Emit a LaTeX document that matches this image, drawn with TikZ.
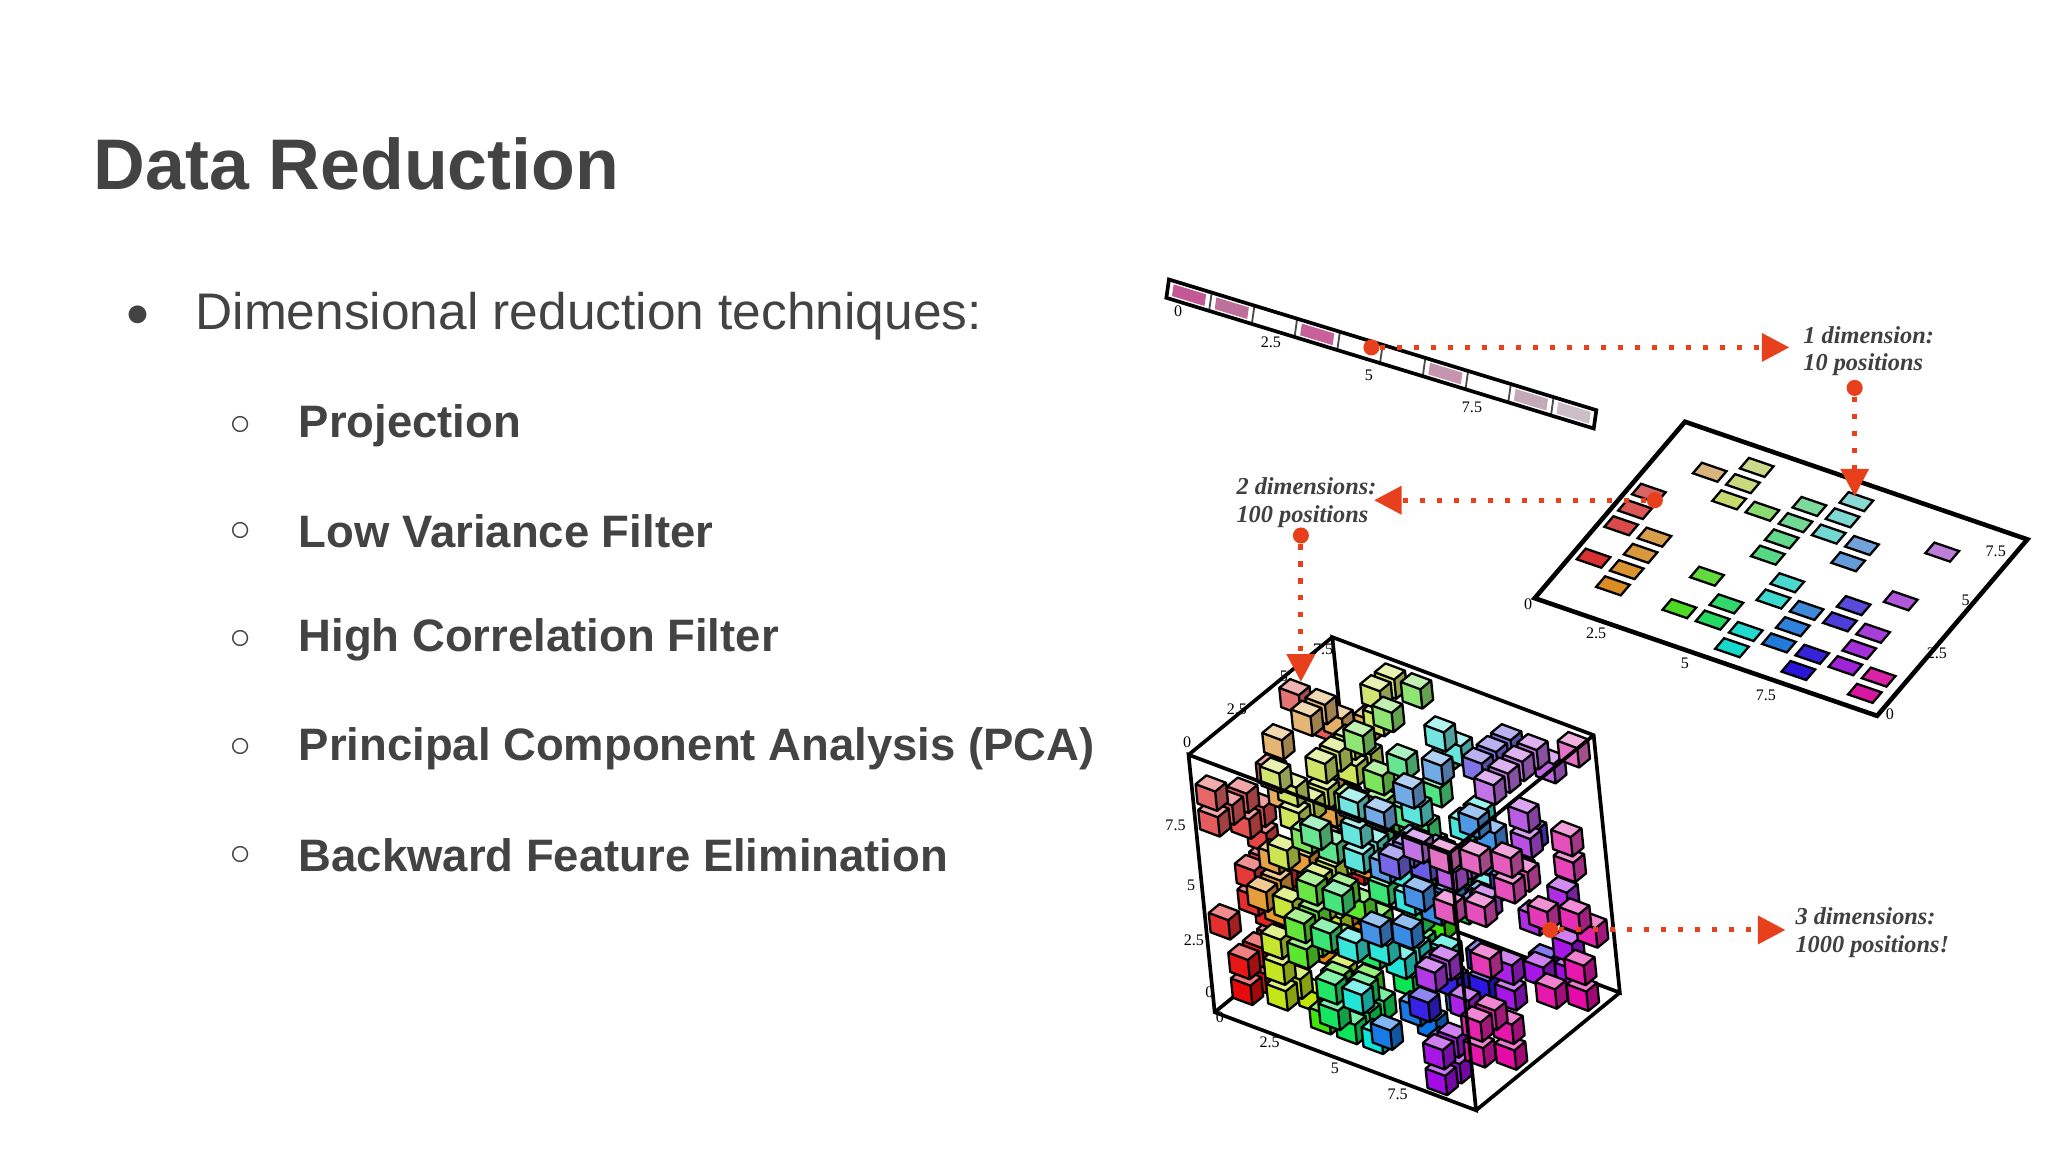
\documentclass[tikz,border=0pt]{standalone}
\usepackage{fontspec}
\setmainfont{Liberation Sans}
\newfontfamily\lbl{Liberation Serif}
\usetikzlibrary{arrows.meta}
\definecolor{txt}{HTML}{434343}
\definecolor{arr}{HTML}{E8401C}
\tikzset{
 tick/.style={font=\lbl\fontsize{3.5}{4}\selectfont},
 arrline/.style={arr,line width=1.1pt,dash pattern=on 1.1pt off 2.6pt,-{Triangle[length=6pt,width=6pt]}},
 dotn/.style={circle,fill=arr,inner sep=0pt,minimum size=3.5pt},
 lab/.style={font=\lbl\itshape\bfseries\fontsize{5.3}{6}\selectfont,align=left,text=black!75,anchor=west,inner sep=0pt},
 item/.style={font=\bfseries\fontsize{9.9}{12}\selectfont,text=txt,anchor=west,inner sep=0pt},
 circ/.style={font=\fontsize{8}{10}\selectfont,text=txt}
}
\newcommand\mkhsb[3]{\convertcolorspec{hsb}{#1,#2,#3}{rgb}\tmpcol\definecolor{cc}{rgb}{\tmpcol}}
\newcommand\mycube[4]{% u v w color
 \def\s{0.075}
 \fill[#4] (#1,#2,#3)--++(\s,0,0)--++(0,\s,0)--++(-\s,0,0)--cycle;
 \fill[#4!55!white] (#1,#2+\s,#3)--++(\s,0,0)--++(0,0,\s)--++(-\s,0,0)--cycle;
 \fill[#4!70!black] (#1+\s,#2,#3)--++(0,0,\s)--++(0,\s,0)--++(0,0,-\s)--cycle;
 \draw[black,line width=0.5pt,line join=round] (#1,#2,#3)--++(\s,0,0)--++(0,0,\s)--++(0,\s,0)--++(-\s,0,0)--++(0,0,-\s)--cycle
   (#1,#2+\s,#3)--++(\s,0,0)--++(0,-\s,0) (#1+\s,#2+\s,#3)--++(0,0,\s);
}
\begin{document}
\begin{tikzpicture}[x=0.01cm,y=-0.01cm]
\useasboundingbox[fill=white] (0,0) rectangle (1568,882);
% text
\node[anchor=base west,inner sep=0pt,font=\bfseries\fontsize{15.6}{18}\selectfont,text=txt] (title) at (71,145) {Data Reduction};
\node[anchor=base west,inner sep=0pt,font=\fontsize{11.2}{13}\selectfont,text=txt] (b0) at (149,252) {Dimensional reduction techniques:};
\node[font=\fontsize{9}{10}\selectfont,text=txt] (d0) at (106,242) {●};
\foreach \t/\yy [count=\i] in {Projection/326,Low Variance Filter/407,High Correlation Filter/490,Principal Component Analysis (PCA)/573,Backward Feature Elimination/655}{
 \node[circ] (c\i) at (184,\yy) {○};
 \node[item] (i\i) at (228,\yy) {\t};
}
% 1D strip
\begin{scope}[shift={(893,228)},x={(3.27cm,-1.0cm)},y={(0.02cm,0.14cm)}]
 \foreach \k/\c in {0/magenta!70!black!80,1/magenta!60!black!70,3/magenta!70!black!75,6/magenta!50!black!50,8/magenta!35!black!40,9/magenta!25!black!30}
   \fill[\c] (\k/10+0.012,0.18)--(\k/10+0.088,0.18)--(\k/10+0.088,0.82)--(\k/10+0.012,0.82)--cycle;
 \foreach \k in {1,...,9} \draw[black!70] (\k/10,0)--(\k/10,1);
 \draw[black,line width=0.8pt] (0,0)--(1,0)--(1,1)--(0,1)--cycle;
\end{scope}
\node[tick] at (902,238) {0};
\node[tick] at (973,262) {2.5};
\node[tick] at (1048,287) {5};
\node[tick] at (1127,312) {7.5};
% 2D plane
\begin{scope}[shift={(1175,458)},x={(2.62cm,-0.9cm)},y={(1.15cm,1.35cm)}]
 \draw[black,line width=1pt,fill=white] (0,0)--(1,0)--(1,1)--(0,1)--cycle;
 \pgfmathsetseed{7}
 \foreach \v in {0,...,9}{\foreach \u in {0,...,9}{
  \pgfmathrandominteger{\r}{0}{99}
  \ifnum\r<40
   \pgfmathsetmacro\h{0.88*\u/9}
   \pgfmathsetmacro\sat{0.9-0.06*\v}
   \mkhsb{\h}{\sat}{0.85}
   \pgfmathsetmacro\ux{0.02+\u*0.097}\pgfmathsetmacro\vy{0.05+\v*0.092}
   \filldraw[fill=cc,draw=black,line width=0.5pt] (\ux,\vy)--++(0.072,0)--++(0,0.06)--++(-0.072,0)--cycle;
  \fi}}
\end{scope}
\node[tick] at (1170,463) {0};
\node[tick] at (1222,485) {2.5};
\node[tick] at (1290,508) {5};
\node[tick] at (1352,532) {7.5};
\node[tick] at (1447,547) {0};
\node[tick] at (1483,500) {2.5};
\node[tick] at (1505,460) {5};
\node[tick] at (1528,422) {7.5};
% 3D cube
\begin{scope}[shift={(930,775)},x={(2cm,-0.75cm)},y={(-0.2cm,1.97cm)},z={(1.1cm,0.9cm)}]
 \draw[black,line width=0.8pt] (0,0,1)--(1,0,1)--(1,1,1)--(0,1,1)--cycle (0,0,0)--(0,0,1);
 \pgfmathsetseed{3}
 \foreach \w in {9,...,0}{\foreach \v in {0,...,9}{\foreach \u in {0,...,9}{
  \pgfmathrandominteger{\r}{0}{99}
  \ifnum\r<27
   \pgfmathsetmacro\h{0.88*\u/9}
   \pgfmathsetmacro\sat{0.95-0.05*\v}
   \mkhsb{\h}{\sat}{0.9}
   \pgfmathsetmacro\uu{\u/10+0.01}\pgfmathsetmacro\vv{\v/10+0.01}\pgfmathsetmacro\ww{\w/10+0.01}
   \mycube{\uu}{\vv}{\ww}{cc}
  \fi}}}
 \draw[black,line width=0.8pt] (0,0,0)--(1,0,0)--(1,1,0)--(0,1,0)--cycle (1,0,0)--(1,0,1) (1,1,0)--(1,1,1) (0,1,0)--(0,1,1);
\end{scope}
\foreach \t/\xx/\yy in {0/934/779,2.5/972/798,5/1022/818,7.5/1070/838,0/926/760,2.5/914/720,5/912/678,7.5/900/632,0/909/568,2.5/947/543,5/983/518,7.5/1013/497}
 \node[tick] at (\xx,\yy) {\t};
% arrows and labels
\node[dotn] (p1) at (1050,266) {};
\node[lab] (l1) at (1380,269) {1 dimension:\\10 positions};
\coordinate (e1) at (1370,266);
\draw[arrline] (p1) -- (e1);
\node[dotn] (p2) at (1420,297) {};
\coordinate (e2) at (1420,380);
\draw[arrline] (p2) -- (e2);
\node[dotn] (p3) at (1267,383) {};
\coordinate (e3) at (1052,383);
\draw[arrline] (p3) -- (e3);
\node[lab] (l2) at (946,385) {2 dimensions:\\100 positions};
\node[dotn] (p4) at (996,410) {};
\coordinate (e4) at (996,522);
\draw[arrline] (p4) -- (e4);
\node[dotn] (p5) at (1187,712) {};
\coordinate (e5) at (1367,712);
\draw[arrline] (p5) -- (e5);
\node[lab] (l3) at (1374,714) {3 dimensions:\\1000 positions!};
\end{tikzpicture}
\end{document}
